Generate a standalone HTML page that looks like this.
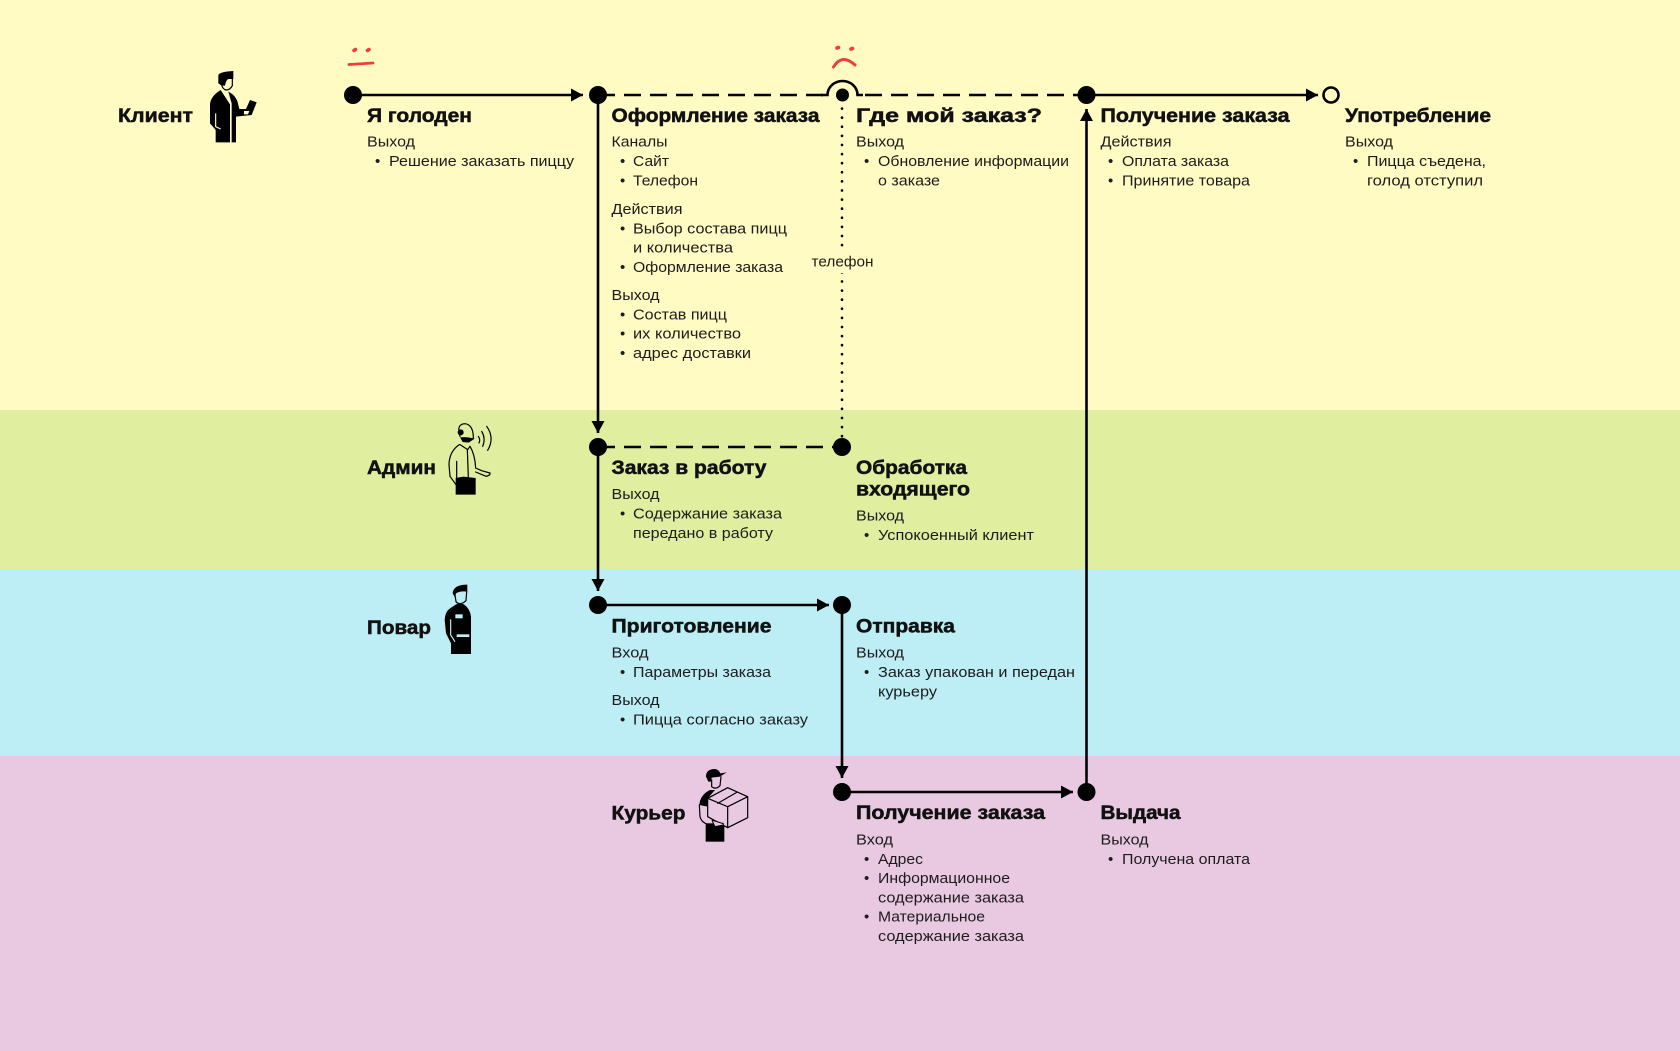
<!DOCTYPE html>
<html lang="ru"><head><meta charset="utf-8"><title>Диаграмма</title>
<style>
html,body{margin:0;padding:0;background:#fffbc2}
svg{display:block}
text{font-family:"Liberation Sans",sans-serif;fill:#111}
.h{font-size:19.5px;font-weight:700;stroke:#111;stroke-width:.5px}
.t{font-size:15px;fill:#1c1c1c;transform:translateY(-.4px)}
.l{fill:none;stroke:#000;stroke-width:2.6}
.ic{fill:none;stroke:#000;stroke-width:3.6;stroke-linejoin:round;stroke-linecap:round}
</style></head><body>
<svg xmlns="http://www.w3.org/2000/svg" width="1680" height="1051" viewBox="0 0 1680 1051">
<defs>
<marker id="a" markerUnits="userSpaceOnUse" markerWidth="13" markerHeight="14" refX="12" refY="7" orient="auto"><path d="M0 .5L12 7L0 13.500Z" fill="#000"/></marker>
</defs>
<rect width="1680" height="410" fill="#fffbc2"/>
<rect y="410" width="1680" height="159" fill="#dfee9f"/>
<rect y="569" width="1680" height="187" fill="#bdeef5"/>
<rect y="756" width="1680" height="295" fill="#e9c9e2"/>

<!-- connectors -->
<line class="l" x1="353" y1="95" x2="583" y2="95" marker-end="url(#a)"/>
<line class="l" x1="598" y1="95" x2="828" y2="95" stroke-dasharray="17 9"/>
<line class="l" x1="857" y1="95" x2="1086" y2="95" stroke-dasharray="17 9" stroke-dashoffset="-8"/>
<path class="l" d="M821 95H827.500A15 14 0 0 1 857.500 95H863"/>
<line class="l" x1="1086" y1="95" x2="1318" y2="95" marker-end="url(#a)"/>
<line class="l" x1="598" y1="95" x2="598" y2="433" marker-end="url(#a)"/>
<line class="l" x1="598" y1="447" x2="842" y2="447" stroke-dasharray="17 9"/>
<line x1="842" y1="108.500" x2="842" y2="447" stroke="#000" stroke-width="2.600" stroke-linecap="round" stroke-dasharray="0.100 9"/>
<line class="l" x1="598" y1="447" x2="598" y2="591" marker-end="url(#a)"/>
<line class="l" x1="598" y1="605" x2="829" y2="605" marker-end="url(#a)"/>
<line class="l" x1="842" y1="605" x2="842" y2="778" marker-end="url(#a)"/>
<line class="l" x1="842" y1="792" x2="1073" y2="792" marker-end="url(#a)"/>
<line class="l" x1="1086.500" y1="792" x2="1086.500" y2="109" marker-end="url(#a)"/>

<!-- nodes -->
<g fill="#000">
<circle cx="353" cy="95" r="9"/><circle cx="598" cy="95" r="9"/><circle cx="842.500" cy="95" r="6.500"/><circle cx="1086.500" cy="95" r="9"/>
<circle cx="598" cy="447" r="9"/><circle cx="842" cy="447" r="9"/>
<circle cx="598" cy="605" r="9"/><circle cx="842" cy="605" r="9"/>
<circle cx="842" cy="792" r="9"/><circle cx="1086.500" cy="792" r="9"/>
</g>
<circle cx="1331" cy="95" r="7.500" fill="none" stroke="#000" stroke-width="2.600"/>

<!-- red faces -->
<g fill="none" stroke="#f23b42" stroke-linecap="round">
<path d="M354 50.500L355.500 49.500M367.500 50.500L369 49.500" stroke-width="3.600"/>
<path d="M349 64.500L373 63" stroke-width="2.800"/>
<path d="M837 48L838.500 47.500M851 49L852.500 48.500" stroke-width="3.600"/>
<path d="M833.500 67Q842 53 855 65" stroke-width="3"/>
</g>

<!-- client icon -->
<g transform="translate(200 65) scale(.33333)">
<path fill="#000" d="M55 55L55 30Q60 20 100 18L100 42L85 42Q78 45 75 62L65 62Z"/>
<path class="ic" d="M97 42L97 62Q90 75 78 75Q68 72 65 60"/>
<path fill="#000" d="M30 120Q30 95 62 75L90 118L90 232L47 232L47 195L30 175Z"/>
<path fill="#000" d="M85 80Q110 92 115 120L118 132L138 132L150 105L170 112L155 150L108 155L108 232L95 232L95 115Z"/>
<path fill="#fffbc2" d="M132 138H148L144 148H132Z"/>
<path d="M47 145L47 185L62 192" fill="none" stroke="#fffbc2" stroke-width="3.500"/>
</g>

<!-- admin icon -->
<g transform="translate(440 418) scale(.33333)">
<path class="ic" d="M60 55Q48 18 75 17Q100 20 100 60"/>
<circle cx="62" cy="43" r="9" fill="#000"/>
<path fill="#000" d="M60 58Q80 56 104 62L86 74L68 72Z"/>
<path class="ic" d="M115 55Q122 65 117 75M125 40Q138 62 128 85M140 25Q165 60 143 97"/>
<path class="ic" d="M58 80Q28 100 27 140L30 175L48 200"/>
<path class="ic" d="M90 85Q105 110 107 150L125 158L150 165Q152 172 138 175L107 162"/>
<path class="ic" d="M60 80L83 95L90 85M82 95L85 178M50 130L50 195"/>
<path fill="#000" d="M47 180L70 176L107 180L107 230L47 230Z"/>
</g>

<!-- cook icon -->
<g transform="translate(440 580) scale(.33333)">
<path fill="#000" d="M38 40Q40 14 82 14L82 35Q60 32 48 40L45 52Z"/>
<path class="ic" d="M45 45L48 65Q60 78 78 62L80 35"/>
<path fill="#000" d="M30 85Q15 95 14 120L18 160L33 190L33 222L93 222L93 110Q90 85 70 72L50 72Z"/>
<rect x="46" y="103" width="22" height="12" fill="#bdeef5"/>
<rect x="50" y="163" width="38" height="8" fill="#bdeef5"/>
<path d="M32 118L32 165L45 185" fill="none" stroke="#bdeef5" stroke-width="3.500"/>
</g>

<!-- courier icon -->
<g transform="translate(695 765) scale(.33333)">
<path fill="#000" d="M33 35Q33 12 60 12Q72 14 76 25L95 22L75 35L50 38L48 50L40 50Z"/>
<path class="ic" d="M50 45L50 65Q62 75 75 62L78 35"/>
<path fill="#000" d="M45 75Q15 90 13 120L38 125L38 100L60 75Z"/>
<path class="ic" d="M13 120L15 155Q20 175 45 180"/>
<rect x="32" y="175" width="56" height="55" fill="#000"/>
<path d="M38 100L98 68L158 95L158 158L98 188L38 155Z" fill="#e9c9e2" stroke="#000" stroke-width="3.600" stroke-linejoin="round"/>
<path class="ic" d="M38 100L98 125L158 95M98 125L98 188M68 115L125 82"/>
<path d="M52 168L60 185L85 180L85 176L52 166Z" fill="#e9c9e2" stroke="#000" stroke-width="3"/>
</g>

<!-- column 1 -->
<text class="h" x="118" y="122" textLength="75" lengthAdjust="spacingAndGlyphs">Клиент</text>
<text class="h" x="367" y="122" textLength="105" lengthAdjust="spacingAndGlyphs">Я голоден</text>
<text class="t" x="367" y="147" textLength="48" lengthAdjust="spacingAndGlyphs">Выход</text>
<text class="t" x="375" y="166.500">•</text>
<text class="t" x="389" y="166.500" textLength="185" lengthAdjust="spacingAndGlyphs">Решение заказать пиццу</text>

<!-- column 2 -->
<text class="h" x="611.500" y="122" textLength="208" lengthAdjust="spacingAndGlyphs">Оформление заказа</text>
<text class="t" x="611.500" y="147" textLength="56" lengthAdjust="spacingAndGlyphs">Каналы</text>
<text class="t" x="620" y="166.500">•</text><text class="t" x="633" y="166.500" textLength="36" lengthAdjust="spacingAndGlyphs">Сайт</text>
<text class="t" x="620" y="186">•</text><text class="t" x="633" y="186" textLength="65" lengthAdjust="spacingAndGlyphs">Телефон</text>
<text class="t" x="611.500" y="214.500" textLength="71" lengthAdjust="spacingAndGlyphs">Действия</text>
<text class="t" x="620" y="234">•</text><text class="t" x="633" y="234" textLength="154" lengthAdjust="spacingAndGlyphs">Выбор состава пицц</text>
<text class="t" x="633" y="253" textLength="100" lengthAdjust="spacingAndGlyphs">и количества</text>
<text class="t" x="620" y="272.500">•</text><text class="t" x="633" y="272.500" textLength="150" lengthAdjust="spacingAndGlyphs">Оформление заказа</text>
<text class="t" x="611.500" y="300.500" textLength="48" lengthAdjust="spacingAndGlyphs">Выход</text>
<text class="t" x="620" y="320">•</text><text class="t" x="633" y="320" textLength="94" lengthAdjust="spacingAndGlyphs">Состав пицц</text>
<text class="t" x="620" y="339">•</text><text class="t" x="633" y="339" textLength="108" lengthAdjust="spacingAndGlyphs">их количество</text>
<text class="t" x="620" y="358.500">•</text><text class="t" x="633" y="358.500" textLength="118" lengthAdjust="spacingAndGlyphs">адрес доставки</text>

<!-- column 3 -->
<text class="h" x="856" y="122" textLength="186" lengthAdjust="spacingAndGlyphs">Где мой заказ?</text>
<text class="t" x="856" y="147" textLength="48" lengthAdjust="spacingAndGlyphs">Выход</text>
<text class="t" x="864" y="166.500">•</text><text class="t" x="878" y="166.500" textLength="191" lengthAdjust="spacingAndGlyphs">Обновление информации</text>
<text class="t" x="878" y="186" textLength="62" lengthAdjust="spacingAndGlyphs">о заказе</text>
<rect x="808" y="250" width="68" height="23" fill="#fffbc2"/>
<text class="t" x="811.500" y="267" textLength="62" lengthAdjust="spacingAndGlyphs">телефон</text>

<!-- column 4 -->
<text class="h" x="1100.500" y="122" textLength="189" lengthAdjust="spacingAndGlyphs">Получение заказа</text>
<text class="t" x="1100.500" y="147" textLength="71" lengthAdjust="spacingAndGlyphs">Действия</text>
<text class="t" x="1108" y="166.500">•</text><text class="t" x="1122" y="166.500" textLength="107" lengthAdjust="spacingAndGlyphs">Оплата заказа</text>
<text class="t" x="1108" y="186">•</text><text class="t" x="1122" y="186" textLength="128" lengthAdjust="spacingAndGlyphs">Принятие товара</text>

<!-- column 5 -->
<text class="h" x="1345" y="122" textLength="146" lengthAdjust="spacingAndGlyphs">Употребление</text>
<text class="t" x="1345" y="147" textLength="48" lengthAdjust="spacingAndGlyphs">Выход</text>
<text class="t" x="1353" y="166.500">•</text><text class="t" x="1367" y="166.500" textLength="119" lengthAdjust="spacingAndGlyphs">Пицца съедена,</text>
<text class="t" x="1367" y="186" textLength="116" lengthAdjust="spacingAndGlyphs">голод отступил</text>

<!-- admin row -->
<text class="h" x="367" y="474" textLength="69" lengthAdjust="spacingAndGlyphs">Админ</text>
<text class="h" x="611.500" y="474" textLength="155" lengthAdjust="spacingAndGlyphs">Заказ в работу</text>
<text class="t" x="611.500" y="499.500" textLength="48" lengthAdjust="spacingAndGlyphs">Выход</text>
<text class="t" x="620" y="519">•</text><text class="t" x="633" y="519" textLength="149" lengthAdjust="spacingAndGlyphs">Содержание заказа</text>
<text class="t" x="633" y="538.500" textLength="140" lengthAdjust="spacingAndGlyphs">передано в работу</text>
<text class="h" x="856" y="474" textLength="111" lengthAdjust="spacingAndGlyphs">Обработка</text>
<text class="h" x="856" y="495.500" textLength="114" lengthAdjust="spacingAndGlyphs">входящего</text>
<text class="t" x="856" y="521" textLength="48" lengthAdjust="spacingAndGlyphs">Выход</text>
<text class="t" x="864" y="540.500">•</text><text class="t" x="878" y="540.500" textLength="156" lengthAdjust="spacingAndGlyphs">Успокоенный клиент</text>

<!-- cook row -->
<text class="h" x="367" y="634" textLength="64" lengthAdjust="spacingAndGlyphs">Повар</text>
<text class="h" x="611.500" y="632.500" textLength="160" lengthAdjust="spacingAndGlyphs">Приготовление</text>
<text class="t" x="611.500" y="658" textLength="37" lengthAdjust="spacingAndGlyphs">Вход</text>
<text class="t" x="620" y="677.500">•</text><text class="t" x="633" y="677.500" textLength="138" lengthAdjust="spacingAndGlyphs">Параметры заказа</text>
<text class="t" x="611.500" y="705.500" textLength="48" lengthAdjust="spacingAndGlyphs">Выход</text>
<text class="t" x="620" y="725">•</text><text class="t" x="633" y="725" textLength="175" lengthAdjust="spacingAndGlyphs">Пицца согласно заказу</text>
<text class="h" x="856" y="632.500" textLength="99" lengthAdjust="spacingAndGlyphs">Отправка</text>
<text class="t" x="856" y="658" textLength="48" lengthAdjust="spacingAndGlyphs">Выход</text>
<text class="t" x="864" y="677.500">•</text><text class="t" x="878" y="677.500" textLength="197" lengthAdjust="spacingAndGlyphs">Заказ упакован и передан</text>
<text class="t" x="878" y="697" textLength="59" lengthAdjust="spacingAndGlyphs">курьеру</text>

<!-- courier row -->
<text class="h" x="611.500" y="819.500" textLength="74" lengthAdjust="spacingAndGlyphs">Курьер</text>
<text class="h" x="856" y="819" textLength="189" lengthAdjust="spacingAndGlyphs">Получение заказа</text>
<text class="t" x="856" y="845" textLength="37" lengthAdjust="spacingAndGlyphs">Вход</text>
<text class="t" x="864" y="864.500">•</text><text class="t" x="878" y="864.500" textLength="45" lengthAdjust="spacingAndGlyphs">Адрес</text>
<text class="t" x="864" y="883.500">•</text><text class="t" x="878" y="883.500" textLength="132" lengthAdjust="spacingAndGlyphs">Информационное</text>
<text class="t" x="878" y="903" textLength="146" lengthAdjust="spacingAndGlyphs">содержание заказа</text>
<text class="t" x="864" y="922">•</text><text class="t" x="878" y="922" textLength="107" lengthAdjust="spacingAndGlyphs">Материальное</text>
<text class="t" x="878" y="941.500" textLength="146" lengthAdjust="spacingAndGlyphs">содержание заказа</text>
<text class="h" x="1100.500" y="819" textLength="80" lengthAdjust="spacingAndGlyphs">Выдача</text>
<text class="t" x="1100.500" y="845" textLength="48" lengthAdjust="spacingAndGlyphs">Выход</text>
<text class="t" x="1108" y="864.500">•</text><text class="t" x="1122" y="864.500" textLength="128" lengthAdjust="spacingAndGlyphs">Получена оплата</text>
</svg>
</body></html>
